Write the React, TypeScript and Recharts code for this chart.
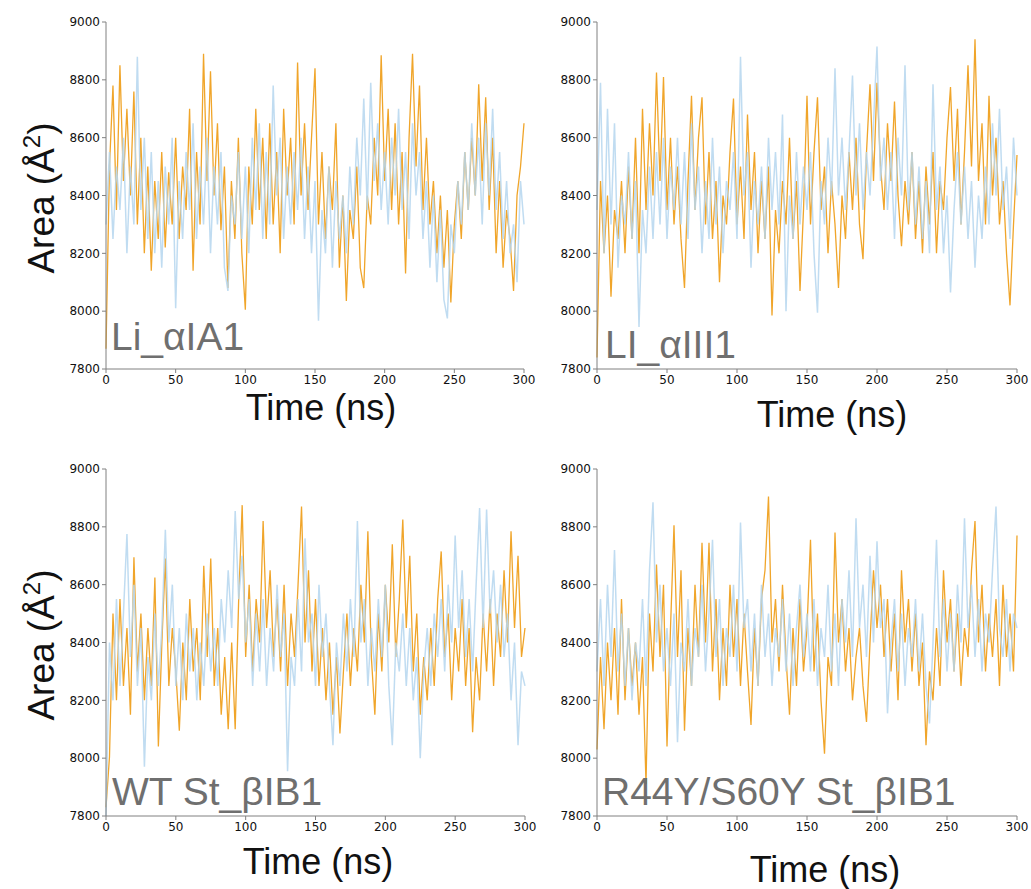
import React from 'react';
import { LineChart, Line, XAxis, YAxis } from 'recharts';

// sampling grid, 2.5 ns steps
const time: number[] = Array.from({ length: 121 }, (_, i) => i * 2.5);
const xTicks = [0, 50, 100, 150, 200, 250, 300];
const yTicks = [7800, 8000, 8200, 8400, 8600, 8800, 9000];

// Li_αIA1
const liA1Orange = [
  7870, 8500, 8780, 8350, 8850, 8450, 8700, 8400, 8760,
  8300, 8600, 8200, 8500, 8140, 8450, 8250, 8550,
  8220, 8480, 8300, 8600, 8250, 8500,
  8350, 8700, 8140, 8550, 8300, 8890, 8450, 8830,
  8400, 8650, 8280, 8500, 8080, 8450, 8250, 8600,
  8200, 8005, 8500, 8300, 8700, 8350, 8600, 8250,
  8650, 8300, 8550, 8200, 8700, 8400, 8600, 8300,
  8860, 8400, 8650, 8350, 8600, 8840,
  8300, 8550, 8250, 8500, 8350, 8650, 8150, 8400,
  8035, 8350, 8250, 8500, 8150, 8080, 8400, 8300,
  8600, 8400, 8885, 8450, 8700, 8350, 8650, 8300,
  8550, 8130, 8600, 8890, 8500, 8780, 8350, 8600,
  8300, 8450, 8200, 8400, 8150, 8350, 8030, 8300,
  8450, 8250, 8550, 8350, 8600, 8400, 8785, 8450,
  8740, 8350, 8600, 8200, 8450, 8150, 8350, 8250,
  8070, 8400, 8500, 8650,
];
const liA1Blue = [
  8300, 8550, 8250, 8500, 8350, 8600, 8200, 8500, 8300,
  8880, 8350, 8600, 8250, 8550, 8200, 8450, 8150,
  8500, 8300, 8600, 8010, 8450, 8250,
  8550, 8350, 8650, 8250, 8500, 8300, 8600, 8200,
  8500, 8300, 8550, 8150, 8070, 8400, 8300, 8550,
  8250, 8500, 8200, 8600, 8350, 8650, 8250, 8550,
  8300, 8780, 8400, 8600, 8250, 8500, 8300, 8550,
  8350, 8600, 8250, 8500, 8200, 8450,
  7967, 8350, 8200, 8500, 8150, 8450, 8250, 8400,
  8200, 8500, 8300, 8600, 8400, 8735, 8350, 8790,
  8450, 8650, 8350, 8550, 8300, 8600, 8400, 8700,
  8350, 8550, 8250, 8650, 8400, 8550, 8250, 8450,
  8150, 8400, 8100, 8350, 8040, 7975, 8300, 8200,
  8450, 8300, 8550, 8350, 8650, 8400, 8600, 8300,
  8650, 8400, 8700, 8350, 8550, 8250, 8450, 8200,
  8300, 8100, 8450, 8300,
];

// LI_αIII1
const liIII1Orange = [
  7840, 8450, 8200, 8400, 8050, 8350, 8250, 8450, 8200,
  8500, 8250, 8600, 8200, 8700, 8350, 8650, 8400,
  8825, 8450, 8810, 8350, 8600, 8300,
  8500, 8250, 8080, 8450, 8745, 8350, 8600, 8740,
  8300, 8550, 8250, 8450, 8100, 8400, 8300, 8550,
  8735, 8300, 8500, 8250, 8680, 8350, 8550, 8200,
  8450, 8250, 8500, 7985, 8350, 8200, 8450, 8300,
  8600, 8250, 8450, 8070, 8350, 8745,
  8300, 8550, 8740, 8350, 8500, 8200, 8450, 8300,
  8080, 8400, 8250, 8550, 8350, 8600, 8300, 8180,
  8550, 8785, 8450, 8790, 8500, 8350, 8650, 8450,
  8725, 8400, 8225, 8450, 8300, 8550, 8250, 8450,
  8200, 8500, 8300, 8550, 8200, 8450, 8350, 8600,
  8775, 8450, 8700, 8300, 8550, 8850, 8500, 8940,
  8450, 8650, 8300, 8745, 8400, 8600, 8300, 8450,
  8200, 8020, 8300, 8540,
];
const liIII1Blue = [
  8350, 8790, 8200, 8700, 8300, 8650, 8150, 8400, 8300,
  8550, 8250, 8450, 7945, 8350, 8200, 8500, 8250,
  8550, 8300, 8600, 8250, 8500, 8350,
  8600, 8300, 8550, 8250, 8650, 8350, 8500, 8200,
  8450, 8250, 8600, 8300, 8500, 8200, 8450, 8350,
  8550, 8250, 8880, 8400, 8550, 8150, 8450, 8300,
  8500, 8250, 8600, 8350, 8550, 8300, 8680, 8000,
  8400, 8250, 8550, 8300, 8500, 8350,
  8550, 8200, 7995, 8450, 8300, 8600, 8400, 8840,
  8400, 8600, 8350, 8550, 8815, 8400, 8650, 8350,
  8550, 8400, 8650, 8915, 8450, 8600, 8350, 8550,
  8250, 8600, 8400, 8850, 8350, 8550, 8300, 8500,
  8250, 8450, 8200, 8785, 8350, 8500, 8200, 8400,
  8065, 8350, 8550, 8300, 8500, 8250, 8450, 8150,
  8400, 8250, 8500, 8300, 8650, 8400, 8700, 8350,
  8500, 8250, 8600, 8400,
];

// WT St_βIB1
const wtOrange = [
  7830, 8005, 8500, 8200, 8550, 8250, 8450, 8150, 8695,
  8300, 8500, 8200, 8450, 8250, 8625, 8040, 8400,
  8690, 8250, 8450, 8300, 8095, 8400,
  8200, 8550, 8300, 8450, 8200, 8665, 8350, 8690,
  8250, 8450, 8150, 8350, 8100, 8400, 8100, 8550,
  8875, 8350, 8600, 8300, 8550, 8400, 8820, 8450,
  8650, 8350, 8550, 8300, 8600, 8250, 8500, 8350,
  8600, 8870, 8400, 8650, 8300, 8550,
  8250, 8450, 8200, 8400, 8150, 8350, 8085, 8300,
  8500, 8250, 8450, 8300, 8600, 8400, 8785, 8350,
  8150, 8500, 8300, 8600, 8400, 8740, 8350, 8550,
  8825, 8450, 8700, 8300, 8500, 8150, 8350, 8200,
  8450, 8250, 8550, 8715, 8350, 8500, 8200, 8450,
  8300, 8550, 8250, 8450, 8090, 8350, 8200, 8500,
  8300, 8550, 8250, 8500, 8350, 8650, 8400, 8785,
  8450, 8700, 8350, 8450,
];
const wtBlue = [
  7800, 8400, 8200, 8550, 8250, 8500, 8775, 8350, 8600,
  8250, 8450, 7970, 8350, 8200, 8500, 8250, 8450,
  8790, 8400, 8600, 8250, 8450, 8200,
  8500, 8300, 8450, 8200, 8400, 8250, 8500, 8300,
  8450, 8250, 8550, 8400, 8650, 8450, 8855, 8550,
  8700, 8400, 8550, 8250, 8500, 8300, 8550, 8250,
  8450, 8300, 8600, 8350, 8500, 7955, 8350, 8250,
  8550, 8300, 8760, 8400, 8500, 8250,
  8600, 8350, 8500, 8250, 8045, 8400, 8250, 8500,
  8300, 8550, 8350, 8820, 8400, 8550, 8250, 8450,
  8300, 8550, 8350, 8600, 8250, 8045, 8400, 8300,
  8500, 8250, 8450, 8200, 8350, 8000, 8300, 8450,
  8250, 8500, 8350, 8550, 8300, 8600, 8400, 8770,
  8450, 8650, 8350, 8550, 8300, 8600, 8865, 8450,
  8860, 8500, 8650, 8400, 8600, 8350, 8500, 8200,
  8400, 8045, 8300, 8250,
];

// R44Y/S60Y St_βIB1
const mutOrange = [
  8030, 8350, 8100, 8400, 8200, 8450, 8150, 8550, 8200,
  8450, 8250, 8400, 8150, 8350, 7910, 8500, 8300,
  8670, 8350, 8600, 8040, 8450, 8805,
  8350, 8650, 8095, 8450, 8250, 8600, 8350, 8745,
  8400, 8745, 8300, 8550, 8200, 8450, 8250, 8600,
  8350, 8550, 8250, 8500, 8300, 8115, 8450, 8250,
  8550, 8650, 8905, 8400, 8550, 8300, 8600, 8350,
  8150, 8450, 8250, 8550, 8300, 8450,
  8755, 8300, 8500, 8200, 8015, 8350, 8250, 8780,
  8400, 8550, 8300, 8450, 8200, 8350, 8450, 8250,
  8125, 8400, 8650, 8450, 8600, 8350, 8550, 8300,
  8500, 8200, 8650, 8400, 8550, 8300, 8500, 8250,
  8400, 8045, 8300, 8200, 8450, 8250, 8650, 8400,
  8550, 8300, 8500, 8250, 8450, 8350, 8650, 8820,
  8400, 8600, 8300, 8500, 8350, 8550, 8250, 8600,
  8350, 8500, 8300, 8770,
];
const mutBlue = [
  8300, 8550, 8250, 8600, 8350, 8720, 8300, 8500, 8250,
  8450, 8200, 8400, 8300, 8550, 8250, 8650, 8885,
  8400, 8600, 8300, 8450, 8250, 8500,
  8055, 8400, 8300, 8550, 8250, 8450, 8350, 8600,
  8300, 8500, 8755, 8350, 8550, 8250, 8450, 8350,
  8600, 8300, 8815, 8450, 8550, 8300, 8500, 8250,
  8600, 8350, 8500, 8250, 8450, 8350, 8550, 8300,
  8500, 8250, 8450, 8600, 8350, 8500,
  8300, 8550, 8250, 8450, 8350, 8600, 8300, 8500,
  8250, 8550, 8400, 8650, 8350, 8830, 8450, 8600,
  8350, 8700, 8400, 8750, 8450, 8550, 8155, 8400,
  8550, 8300, 8500, 8250, 8450, 8350, 8550, 8300,
  8500, 8250, 8120, 8400, 8755, 8350, 8550, 8300,
  8500, 8300, 8600, 8400, 8830, 8450, 8600, 8350,
  8550, 8300, 8500, 8400, 8650, 8870, 8450, 8350,
  8550, 8300, 8500, 8450,
];

const ORANGE = '#F0A52A';
const BLUE = '#B5D6EF';
const SPINE = '#808080';
const tickStyle = { fontSize: 12, fill: '#111', fontFamily: 'DejaVu Sans' };

interface PanelProps {
  x: number;
  y: number;
  w: number;
  h: number;
  orange: number[];
  blue: number[];
}

const Panel: React.FC<PanelProps> = ({ x, y, w, h, orange, blue }) => {
  const rows = time.map((t, i) => ({ t, o: orange[i], b: blue[i] }));
  return (
    <div style={{ position: 'absolute', left: x - 100, top: y - 15 }}>
      <LineChart width={w + 120} height={h + 55} data={rows} margin={{ top: 15, right: 20, bottom: 10, left: 40 }}>
        <XAxis xAxisId="b" dataKey="t" type="number" domain={[0, 300]} ticks={xTicks} interval={0}
          height={30} tickSize={4} tickMargin={2} stroke={SPINE} tick={tickStyle} />
        <XAxis xAxisId="top" orientation="top" type="number" domain={[0, 300]} height={0}
          tick={false} tickLine={false} stroke={SPINE} />
        <YAxis yAxisId="l" type="number" domain={[7800, 9000]} ticks={yTicks} interval={0}
          width={60} tickSize={4} tickMargin={2} stroke={SPINE} tick={tickStyle} />
        <YAxis yAxisId="r" orientation="right" type="number" domain={[7800, 9000]} width={0}
          tick={false} tickLine={false} stroke={SPINE} />
        <Line xAxisId="b" yAxisId="l" dataKey="o" stroke={ORANGE} strokeWidth={1.3} dot={false}
          type="linear" isAnimationActive={false} />
        <Line xAxisId="b" yAxisId="l" dataKey="b" stroke={BLUE} strokeOpacity={0.85} strokeWidth={1.5}
          dot={false} type="linear" isAnimationActive={false} />
      </LineChart>
    </div>
  );
};

const sans = '"Liberation Sans", Arial, sans-serif';

const TimeLabel = ({ cx, cy }: { cx: number; cy: number }) => (
  <div style={{ position: 'absolute', left: cx, top: cy, transform: 'translate(-50%, -50%)',
    fontFamily: sans, fontSize: 36, lineHeight: 1, color: '#111', whiteSpace: 'nowrap' }}>
    Time (ns)
  </div>
);

const AreaLabel = ({ cx, cy }: { cx: number; cy: number }) => (
  <div style={{ position: 'absolute', left: cx, top: cy, transform: 'translate(-50%, -50%) rotate(-90deg)',
    fontFamily: sans, fontSize: 37, lineHeight: 1, color: '#111', whiteSpace: 'nowrap' }}>
    Area (Å<sup style={{ fontSize: 24 }}>2</sup>)
  </div>
);

const Name = ({ x, y, text }: { x: number; y: number; text: string }) => (
  <div style={{ position: 'absolute', left: x, top: y, fontFamily: sans, fontSize: 39,
    lineHeight: 1, color: '#6f6f6f', whiteSpace: 'nowrap' }}>
    {text}
  </div>
);

export default function App() {
  return (
    <div style={{ position: 'absolute', left: 0, top: 0, width: 1031, height: 889, background: '#fff', overflow: 'hidden' }}>
      <Panel x={106} y={22} w={418} h={347} orange={liA1Orange} blue={liA1Blue} />
      <Panel x={597} y={22} w={420} h={347} orange={liIII1Orange} blue={liIII1Blue} />
      <Panel x={106} y={469} w={419} h={347} orange={wtOrange} blue={wtBlue} />
      <Panel x={597} y={469} w={420} h={347} orange={mutOrange} blue={mutBlue} />

      <Name x={111} y={317} text="Li_αIA1" />
      <Name x={605} y={325} text="LI_αIII1" />
      <Name x={112} y={772} text="WT St_βIB1" />
      <Name x={602} y={772} text="R44Y/S60Y St_βIB1" />

      <TimeLabel cx={321} cy={408} />
      <TimeLabel cx={832} cy={415} />
      <TimeLabel cx={318} cy={862} />
      <TimeLabel cx={825} cy={870} />

      <AreaLabel cx={40} cy={198} />
      <AreaLabel cx={40} cy={645} />
    </div>
  );
}
